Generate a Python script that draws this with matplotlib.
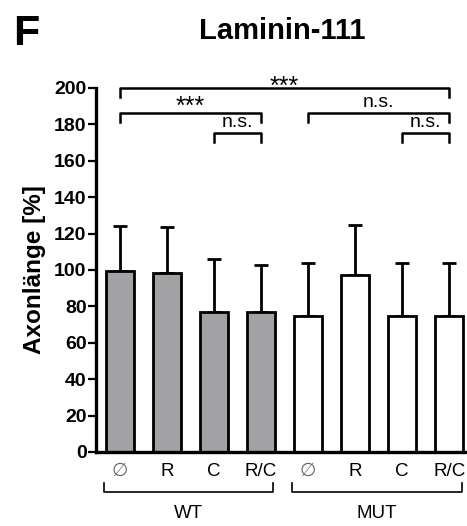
import matplotlib
matplotlib.use("Agg")
import matplotlib.pyplot as plt

plt.rcParams['font.family'] = ['Liberation Sans', 'DejaVu Sans']

conditions = ["∅", "R", "C", "R/C", "∅", "R", "C", "R/C"]
groups = ["WT", "MUT"]
means = [99.5, 98.5, 77, 77, 75, 97, 75, 75]
errors = [24.5, 25.0, 29, 26, 29, 28, 29, 29]
colors = ["#a2a2a5"] * 4 + ["white"] * 4
yticks = [0, 20, 40, 60, 80, 100, 120, 140, 160, 180, 200]
# comparisons: (i, j, y_level, label)
comparisons = [(0, 7, 200, "***"), (0, 3, 186.5, "***"), (4, 7, 186.5, "n.s."),
               (2, 3, 175.5, "n.s."), (6, 7, 175.5, "n.s.")]

fig = plt.figure(figsize=(4.67, 5.26), dpi=100)
ax = fig.add_axes([96/467, 74/526, 371/467, 364/526])

x = list(range(len(means)))
ax.bar(x, means, width=0.6, color=colors, edgecolor="black", linewidth=2.0, zorder=2)
ax.errorbar(x, means, yerr=[[0]*len(errors), errors], fmt="none", ecolor="black",
            elinewidth=2.0, capsize=4.7, capthick=2.0, zorder=1)

ax.set_xlim(-0.51, 7.38)
ax.set_ylim(0, 200)
ax.set_yticks(yticks)
ax.set_yticklabels([str(t) for t in yticks], fontsize=14, fontweight="bold")
ax.tick_params(axis="y", length=5.8, width=1.6, pad=1)
ax.set_xticks(x)
ax.set_xticklabels(conditions, fontsize=13.5)
ax.tick_params(axis="x", length=0, pad=8)
for lbl in ax.get_xticklabels()[0::4]:
    lbl.set_color("#666666")

for s in ["top", "right"]:
    ax.spines[s].set_visible(False)
ax.spines["left"].set_linewidth(2.4)
ax.spines["bottom"].set_linewidth(2.4)
ax.spines["left"].set_bounds(0, 200)

ax.set_ylabel("Axonlänge [%]", fontsize=17.5, fontweight="bold", labelpad=6)

# significance brackets
for i, j, yv, lab in comparisons:
    ax.plot([i, i, j, j], [yv - 5, yv, yv, yv - 5], color="black", lw=1.8,
            clip_on=False)
    if lab == "***":
        off = 3.2 if yv >= 199 else 0.8
        ax.text((i + j) / 2, yv - off, lab, ha="center", va="baseline", fontsize=18,
                clip_on=False)
    else:
        ax.text((i + j) / 2, yv + 0.8, lab, ha="center", va="bottom", fontsize=14,
                clip_on=False)

# group brackets
trans = ax.get_xaxis_transform()
for g, (a, b) in zip(groups, [(-0.34, 3.26), (3.66, 7.28)]):
    ax.plot([a, a, b, b], [-0.085, -0.11, -0.11, -0.085], color="black", lw=1.2,
            transform=trans, clip_on=False)
    ax.text((a + b) / 2, -0.170, g, transform=trans, ha="center", va="center",
            fontsize=13.5)

fig.text(282/467, 1 - 39/526, "Laminin-111", ha="center", va="baseline",
         fontsize=21, fontweight="bold")
fig.text(13/467, 1 - 45/526, "F", ha="left", va="baseline", fontsize=31, fontweight="bold")

fig.savefig("out.png", dpi=100)
